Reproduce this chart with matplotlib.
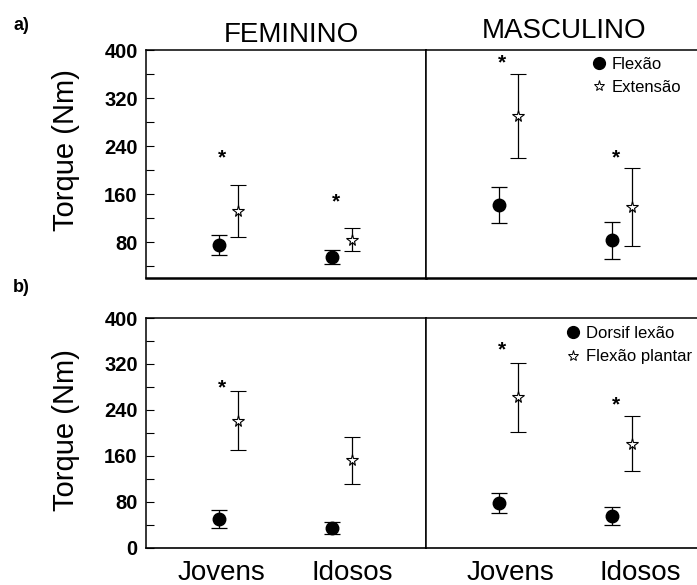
import matplotlib
matplotlib.use("Agg")
import matplotlib.pyplot as plt
from matplotlib.lines import Line2D
import numpy as np

plt.rcParams['font.family'] = ['Liberation Sans', 'DejaVu Sans']

W, H = 697, 585
DPI = 100

groups = ["Jovens", "Idosos"]
sexes = ["FEMININO", "MASCULINO"]

# Row a) knee: Flexão (circles) / Extensão (stars)  [feminino, masculino] x [Jovens, Idosos]
a_flex_mean = [[75, 55], [142, 83]]
a_flex_err = [[17, 12], [30, 31]]
a_ext_mean = [[132, 84], [290, 138]]
a_ext_err = [[43, 19], [70, 65]]
a_star_y = [[220, 147], [379, 220]]

# Row b) ankle: Dorsiflexão (circles) / Flexão plantar (stars)
b_dors_mean = [[50, 34], [78, 55]]
b_dors_err = [[16, 10], [17, 16]]
b_plan_mean = [[221, 152], [262, 181]]
b_plan_err = [[51, 41], [60, 48]]
b_star_y = [[278, None], [345, 248]]

legend_a = ["Flexão", "Extensão"]
legend_b = ["Dorsif lexão", "Flexão plantar"]

fig = plt.figure(figsize=(W / DPI, H / DPI), dpi=DPI)


def fx(px):
    return px / W


def fy(py):
    return 1 - py / H


def make_ax(left_px, top_px, bottom_px, width_px=280):
    return fig.add_axes([fx(left_px), fy(bottom_px), width_px / W, (bottom_px - top_px) / H])


rows = [
    dict(top=50, bottom=278, ylim=(20, 400), major=[80, 160, 240, 320, 400],
         minor=[40, 120, 200, 280, 360],
         c_mean=a_flex_mean, c_err=a_flex_err, s_mean=a_ext_mean, s_err=a_ext_err,
         star=a_star_y, leg=legend_a, leg_xy=(594, 57), bottom_lw=1.8),
    dict(top=318, bottom=547.5, ylim=(0, 400), major=[0, 80, 160, 240, 320, 400],
         minor=[40, 120, 200, 280, 360],
         c_mean=b_dors_mean, c_err=b_dors_err, s_mean=b_plan_mean, s_err=b_plan_err,
         star=b_star_y, leg=legend_b, leg_xy=(568, 326), bottom_lw=1.2),
]

xpos = np.array([1.0, 2.0])
off = 0.085
star_dx = 0.03

for r, row in enumerate(rows):
    for s in range(2):
        left = 146 if s == 0 else 426
        ax = make_ax(left, row['top'], row['bottom'])
        ax.set_xlim(0.271, 2.74)
        ax.set_ylim(*row['ylim'])
        ax.errorbar(xpos - off, row['c_mean'][s], yerr=row['c_err'][s], fmt='o',
                    color='black', markersize=9, elinewidth=0.9, capsize=5.5,
                    capthick=0.9, zorder=3)
        ax.errorbar(xpos + off, row['s_mean'][s], yerr=row['s_err'][s], fmt='*',
                    color='black', markerfacecolor='white', markeredgecolor='black',
                    markeredgewidth=0.8, markersize=8.5, elinewidth=0.9, capsize=5.5,
                    capthick=0.9, zorder=3)
        for i, sy in enumerate(row['star'][s]):
            if sy is not None:
                ax.text(xpos[i] - off + star_dx, sy, '*', fontsize=15, fontweight='bold',
                        ha='center', va='center')
        for sp in ax.spines.values():
            sp.set_linewidth(1.1)
            sp.set_color('black')
        ax.spines['bottom'].set_linewidth(row['bottom_lw'])
        ax.set_xticks([])
        if s == 0:
            ax.set_yticks(row['major'])
            ax.set_yticks(row['minor'], minor=True)
            ax.tick_params(axis='y', which='both', direction='in', length=6, width=0.8)
            ax.tick_params(axis='y', which='major', pad=6, labelsize=14.5)
            for lbl in ax.get_yticklabels():
                lbl.set_fontweight('bold')
        else:
            ax.set_yticks([])
            ax.spines['right'].set_visible(False)
            handles = [
                Line2D([], [], marker='o', linestyle='none', color='black', markersize=8.5),
                Line2D([], [], marker='*', linestyle='none', markerfacecolor='white',
                       markeredgecolor='black', markeredgewidth=0.7, markersize=8),
            ]
            ax.legend(handles, row['leg'], loc='upper left',
                      bbox_to_anchor=(fx(row['leg_xy'][0]), fy(row['leg_xy'][1])),
                      bbox_transform=fig.transFigure, frameon=False, fontsize=12,
                      handlelength=0.6, handletextpad=0.45, labelspacing=0.5,
                      borderpad=0, borderaxespad=0)

# Titles
fig.text(fx(291), fy(41.5), sexes[0], fontsize=20, ha='center', va='baseline')
fig.text(fx(564), fy(37.5), sexes[1], fontsize=20, ha='center', va='baseline')

# Y labels
fig.text(fx(66), fy(150), 'Torque (Nm)', fontsize=21, rotation=90, ha='center', va='center')
fig.text(fx(66), fy(430), 'Torque (Nm)', fontsize=21, rotation=90, ha='center', va='center')

# Panel letters
fig.text(fx(13), fy(25), 'a)', fontsize=13, fontweight='bold', ha='left', va='center')
fig.text(fx(13), fy(288), 'b)', fontsize=13, fontweight='bold', ha='left', va='center')

# Category labels
for cx, g in zip([221, 352, 510, 640], groups * 2):
    fig.text(fx(cx), fy(580), g, fontsize=20, ha='center', va='baseline')

fig.savefig('out.png', dpi=DPI)
